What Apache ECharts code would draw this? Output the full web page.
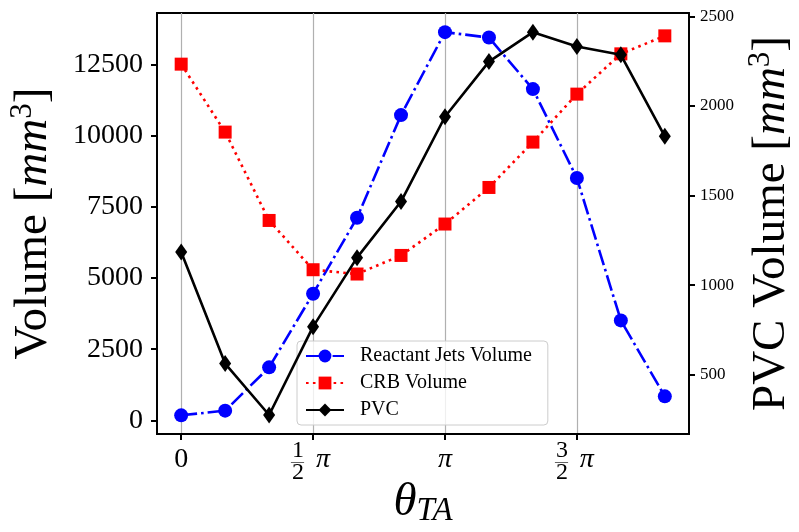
<!DOCTYPE html>
<html>
<head>
<meta charset="utf-8">
<script src="https://cdn.jsdelivr.net/npm/echarts@6/dist/echarts.min.js"></script>
<style>
  html, body { margin: 0; padding: 0; background: #fff; }
  #chart { width: 799px; height: 532px; }
</style>
</head>
<body>
<div id="chart"></div>
<script>
// True-anomaly sweep in degrees (30° steps)
const thetaDeg = [0, 30, 60, 90, 120, 150, 180, 210, 240, 270, 300, 330];
// Volumes in mm^3
const reactantJets = [176, 340, 1861, 4448, 7117, 10723, 13637, 13447, 11636, 8511, 3511, 843];
const crbVolume = [12513, 10126, 7022, 5291, 5140, 5793, 6896, 8181, 9775, 11460, 12875, 13507];
const pvcVolume = [1185, 563, 276, 769, 1154, 1467, 1940, 2248, 2412, 2332, 2286, 1831];

// Tick positions and labels
const xTicks = [0, 90, 180, 270];
const xTickText = { 0: '0', 90: '{p|π}', 180: '{c|π}', 270: '{p|π}' };
const xFracTicks = [90, 270];
const xFracNum = { 90: '1', 270: '3' };
const leftTicks = [0, 2500, 5000, 7500, 10000, 12500];
const rightTicks = [500, 1000, 1500, 2000, 2500];

const SERIF = "'Liberation Serif', 'DejaVu Serif', serif";

function pairs(ys) {
  return thetaDeg.map((t, i) => [t, ys[i]]);
}

const nameRich = {
  a: { fontFamily: SERIF, fontSize: 47, lineHeight: 54, color: '#000' },
  i: { fontFamily: SERIF, fontSize: 47, lineHeight: 54, fontStyle: 'italic', color: '#000' },
  s: { fontFamily: SERIF, fontSize: 31, lineHeight: 31, verticalAlign: 'top', color: '#000' }
};

const chart = echarts.init(document.getElementById('chart'), null, { renderer: 'canvas' });

chart.setOption({
  animation: false,
  backgroundColor: '#fff',
  grid: {
    left: 157, top: 13, width: 532, height: 421,
    show: true, borderColor: '#000', borderWidth: 1.8,
    backgroundColor: 'transparent',
    containLabel: false, outerBoundsMode: 'none'
  },
  legend: {
    orient: 'vertical',
    left: 297, top: 341,
    itemWidth: 38, itemHeight: 16, itemGap: 7,
    padding: [5, 16, 5, 8],
    backgroundColor: 'rgba(255,255,255,0.8)',
    borderColor: '#cccccc', borderWidth: 1, borderRadius: 4,
    textStyle: { fontFamily: SERIF, fontSize: 20, color: '#000', padding: [0, 0, 0, 11] },
    data: ['Reactant Jets Volume', 'CRB Volume', 'PVC']
  },
  xAxis: [
    {
      type: 'value', min: -16.5, max: 346.5, position: 'bottom',
      name: '{t|θ}{u|TA}', nameLocation: 'middle', nameGap: 40,
      nameTextStyle: {
        rich: {
          t: { fontFamily: SERIF, fontSize: 47, fontStyle: 'italic', color: '#000', lineHeight: 50 },
          u: { fontFamily: SERIF, fontSize: 33, fontStyle: 'italic', color: '#000', lineHeight: 50, verticalAlign: 'bottom' }
        }
      },
      axisLine: { show: true, onZero: false, lineStyle: { color: '#000', width: 1.8 } },
      axisTick: { show: true, customValues: xTicks, length: 6, lineStyle: { color: '#000', width: 2 } },
      axisLabel: {
        customValues: xTicks, margin: 12,
        formatter: v => xTickText[v],
        color: '#000', fontFamily: SERIF, fontSize: 28,
        rich: {
          p: { fontFamily: SERIF, fontStyle: 'italic', fontSize: 28, color: '#000', padding: [0, 0, 0, 20] },
          c: { fontFamily: SERIF, fontStyle: 'italic', fontSize: 28, color: '#000' }
        }
      },
      splitLine: { show: true, lineStyle: { color: '#b0b0b0', width: 1.2 } }
    },
    {
      type: 'value', min: -16.5, max: 346.5, position: 'bottom', offset: 0,
      axisLine: { show: false }, axisTick: { show: false }, splitLine: { show: false },
      axisLabel: {
        customValues: xFracTicks, margin: 7, align: 'right', padding: [0, 9, 0, 0],
        formatter: v => '{n|' + xFracNum[v] + '}\n{b|—}\n{n|2}',
        rich: {
          n: { fontFamily: SERIF, fontSize: 24, lineHeight: 19, color: '#000' },
          b: { fontFamily: SERIF, fontSize: 13, lineHeight: 3, color: '#000' }
        }
      }
    }
  ],
  yAxis: [
    {
      type: 'value', position: 'left', min: -480, max: 14310,
      name: '{a|Volume [}{i|mm}{s|3}{a|]}', nameLocation: 'middle', nameRotate: 90, nameGap: 96,
      nameTextStyle: { rich: nameRich },
      axisLine: { show: true, onZero: false, lineStyle: { color: '#000', width: 1.8 } },
      axisTick: { show: true, customValues: leftTicks, length: 6, lineStyle: { color: '#000', width: 2 } },
      axisLabel: {
        customValues: leftTicks, margin: 14, formatter: v => String(v),
        color: '#000', fontFamily: SERIF, fontSize: 28
      },
      splitLine: { show: false }
    },
    {
      type: 'value', position: 'right', min: 170, max: 2519,
      name: '{a|PVC Volume [}{i|mm}{s|3}{a|]}', nameLocation: 'middle', nameRotate: 90, nameGap: 54,
      nameTextStyle: { rich: nameRich },
      axisLine: { show: true, onZero: false, lineStyle: { color: '#000', width: 1.8 } },
      axisTick: { show: true, customValues: rightTicks, length: 6, lineStyle: { color: '#000', width: 2 } },
      axisLabel: {
        customValues: rightTicks, margin: 11, formatter: v => String(v),
        color: '#000', fontFamily: SERIF, fontSize: 17
      },
      splitLine: { show: false }
    }
  ],
  series: [
    {
      name: 'Reactant Jets Volume', type: 'line', xAxisIndex: 0, yAxisIndex: 0,
      data: pairs(reactantJets),
      symbol: 'circle', symbolSize: 14, showAllSymbol: true,
      itemStyle: { color: '#0000ff' },
      lineStyle: { color: '#0000ff', width: 2.6, type: [16, 4, 2.6, 4] },
      emphasis: { disabled: true }, z: 2
    },
    {
      name: 'CRB Volume', type: 'line', xAxisIndex: 0, yAxisIndex: 0,
      data: pairs(crbVolume),
      symbol: 'rect', symbolSize: 13, showAllSymbol: true,
      itemStyle: { color: '#ff0000' },
      lineStyle: { color: '#ff0000', width: 2.6, type: [2.6, 4.3] },
      emphasis: { disabled: true }, z: 3
    },
    {
      name: 'PVC', type: 'line', xAxisIndex: 0, yAxisIndex: 1,
      data: pairs(pvcVolume),
      symbol: 'diamond', symbolSize: [12, 17], showAllSymbol: true,
      itemStyle: { color: '#000000' },
      lineStyle: { color: '#000000', width: 2.6 },
      emphasis: { disabled: true }, z: 4
    }
  ]
});
</script>
</body>
</html>
